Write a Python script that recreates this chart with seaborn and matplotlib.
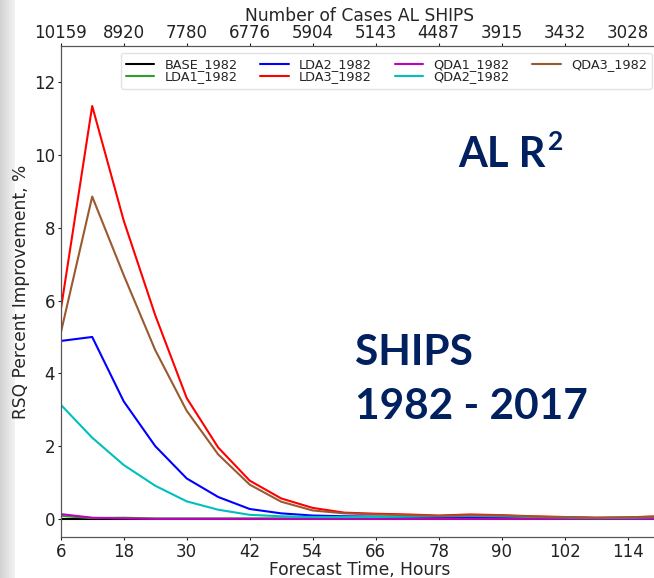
import numpy as np
import pandas as pd
import matplotlib
matplotlib.use("Agg")
import matplotlib.pyplot as plt
import seaborn as sns

# forecast hours and RSQ percent improvement per model
hours = [6, 12, 18, 24, 30, 36, 42, 48, 54, 60, 66, 72, 78, 84, 90, 96, 102, 108, 114, 120]
base_1982 = [0.0] * 20
lda1_1982 = [0.08, 0.02, 0.03, 0.01, 0.01, 0.01, 0.01, 0.01, 0.01, 0.01,
             0.01, 0.01, 0.01, 0.01, 0.01, 0.01, 0.01, 0.01, 0.01, 0.01]
lda2_1982 = [4.89, 5.0, 3.23, 2.0, 1.11, 0.6, 0.27, 0.15, 0.09, 0.07,
             0.06, 0.05, 0.05, 0.05, 0.05, 0.04, 0.03, 0.02, 0.02, 0.03]
lda3_1982 = [5.73, 11.35, 8.2, 5.6, 3.32, 1.96, 1.05, 0.56, 0.3, 0.17,
             0.14, 0.12, 0.09, 0.12, 0.1, 0.07, 0.05, 0.03, 0.04, 0.07]
qda1_1982 = [0.13, 0.03, 0.01, 0.0, 0.0, 0.0, 0.0, 0.0, 0.0, 0.0,
             0.0, 0.0, 0.0, 0.0, 0.0, 0.0, 0.0, 0.0, 0.0, 0.0]
qda2_1982 = [3.14, 2.23, 1.48, 0.91, 0.48, 0.25, 0.11, 0.07, 0.05, 0.05,
             0.05, 0.06, 0.07, 0.08, 0.07, 0.05, 0.04, 0.02, 0.03, 0.05]
qda3_1982 = [5.1, 8.86, 6.7, 4.64, 2.97, 1.77, 0.94, 0.47, 0.23, 0.15,
             0.12, 0.1, 0.08, 0.1, 0.09, 0.06, 0.04, 0.03, 0.04, 0.06]

model_names = ["BASE_1982", "LDA1_1982", "LDA2_1982", "LDA3_1982",
               "QDA1_1982", "QDA2_1982", "QDA3_1982"]
model_values = [base_1982, lda1_1982, lda2_1982, lda3_1982,
                qda1_1982, qda2_1982, qda3_1982]
model_colors = ["black", "#2ca02c", "#0000ff", "#ff0000", "#bf00bf", "#00bfbf", "#9a5a2e"]

tick_hours = [6, 18, 30, 42, 54, 66, 78, 90, 102, 114]
case_counts = ["10159", "8920", "7780", "6776", "5904", "5143", "4487", "3915", "3432", "3028"]

rows = []
for name, vals in zip(model_names, model_values):
    for h, v in zip(hours, vals):
        rows.append({"hour": h, "rsq": v, "model": name})
df = pd.DataFrame(rows)

sns.set_style("ticks")
plt.rcParams["font.family"] = ["DejaVu Sans"]

W, H = 654, 578
fig = plt.figure(figsize=(W / 100, H / 100), dpi=100)
fig.patch.set_facecolor("white")

# grey slide edge on the left
edge = fig.add_axes([0, 0, 15 / W, 1])
edge.imshow(np.linspace(0.82, 0.95, 50).reshape(1, -1), cmap="gray", vmin=0, vmax=1,
            aspect="auto", extent=[0, 1, 0, 1])
edge.axis("off")

ax = fig.add_axes([60.7 / W, 1 - 537 / H, 598.5 / W, (537 - 46) / H])
sns.lineplot(data=df, x="hour", y="rsq", hue="model", hue_order=model_names,
             palette=dict(zip(model_names, model_colors)), linewidth=1.5, ax=ax)

ax.set_xlim(6, 120)
ax.set_ylim(-0.5, 13)
ax.set_xticks(tick_hours)
ax.set_yticks([0, 2, 4, 6, 8, 10, 12])
ax.tick_params(labelsize=12, colors="#222222", length=2.5, pad=1.5)
ax.set_xlabel("Forecast Time, Hours", fontsize=12.3, labelpad=0)
ax.set_ylabel("RSQ Percent Improvement, %", fontsize=12.3, labelpad=3)
for s in ax.spines.values():
    s.set_color("#555555")

top = ax.twiny()
top.set_xlim(ax.get_xlim())
top.set_xticks(tick_hours)
top.set_xticklabels(case_counts)
top.tick_params(labelsize=12, colors="#222222", length=2.5, pad=0.5)
top.set_xlabel("Number of Cases AL SHIPS", fontsize=12.3, labelpad=2)
for s in top.spines.values():
    s.set_color("#555555")

handles, labels = ax.get_legend_handles_labels()
ax.get_legend().remove()
leg = top.legend(handles, labels, ncol=4, loc="upper right", fontsize=9.3,
                 bbox_to_anchor=(0.988, 0.986), borderaxespad=0,
                 handlelength=2.2, columnspacing=1.75,
                 labelspacing=-0.05, borderpad=0.4, frameon=True)
leg.get_frame().set_edgecolor("#dddddd")

navy = "#002060"
fig.text(458 / W, 1 - 167 / H, "AL R", fontsize=30, fontweight="bold",
         color=navy, family="Lato", ha="left", va="baseline")
fig.text(548 / W, 1 - 150 / H, "2", fontsize=19, fontweight="bold",
         color=navy, family="Lato", ha="left", va="baseline")
fig.text(355 / W, 1 - 365 / H, "SHIPS", fontsize=30.5, fontweight="bold",
         color=navy, family="Lato", ha="left", va="baseline")
fig.text(355 / W, 1 - 419 / H, "1982 - 2017", fontsize=30.5, fontweight="bold",
         color=navy, family="Lato", ha="left", va="baseline")

fig.savefig("out.png", dpi=100)
